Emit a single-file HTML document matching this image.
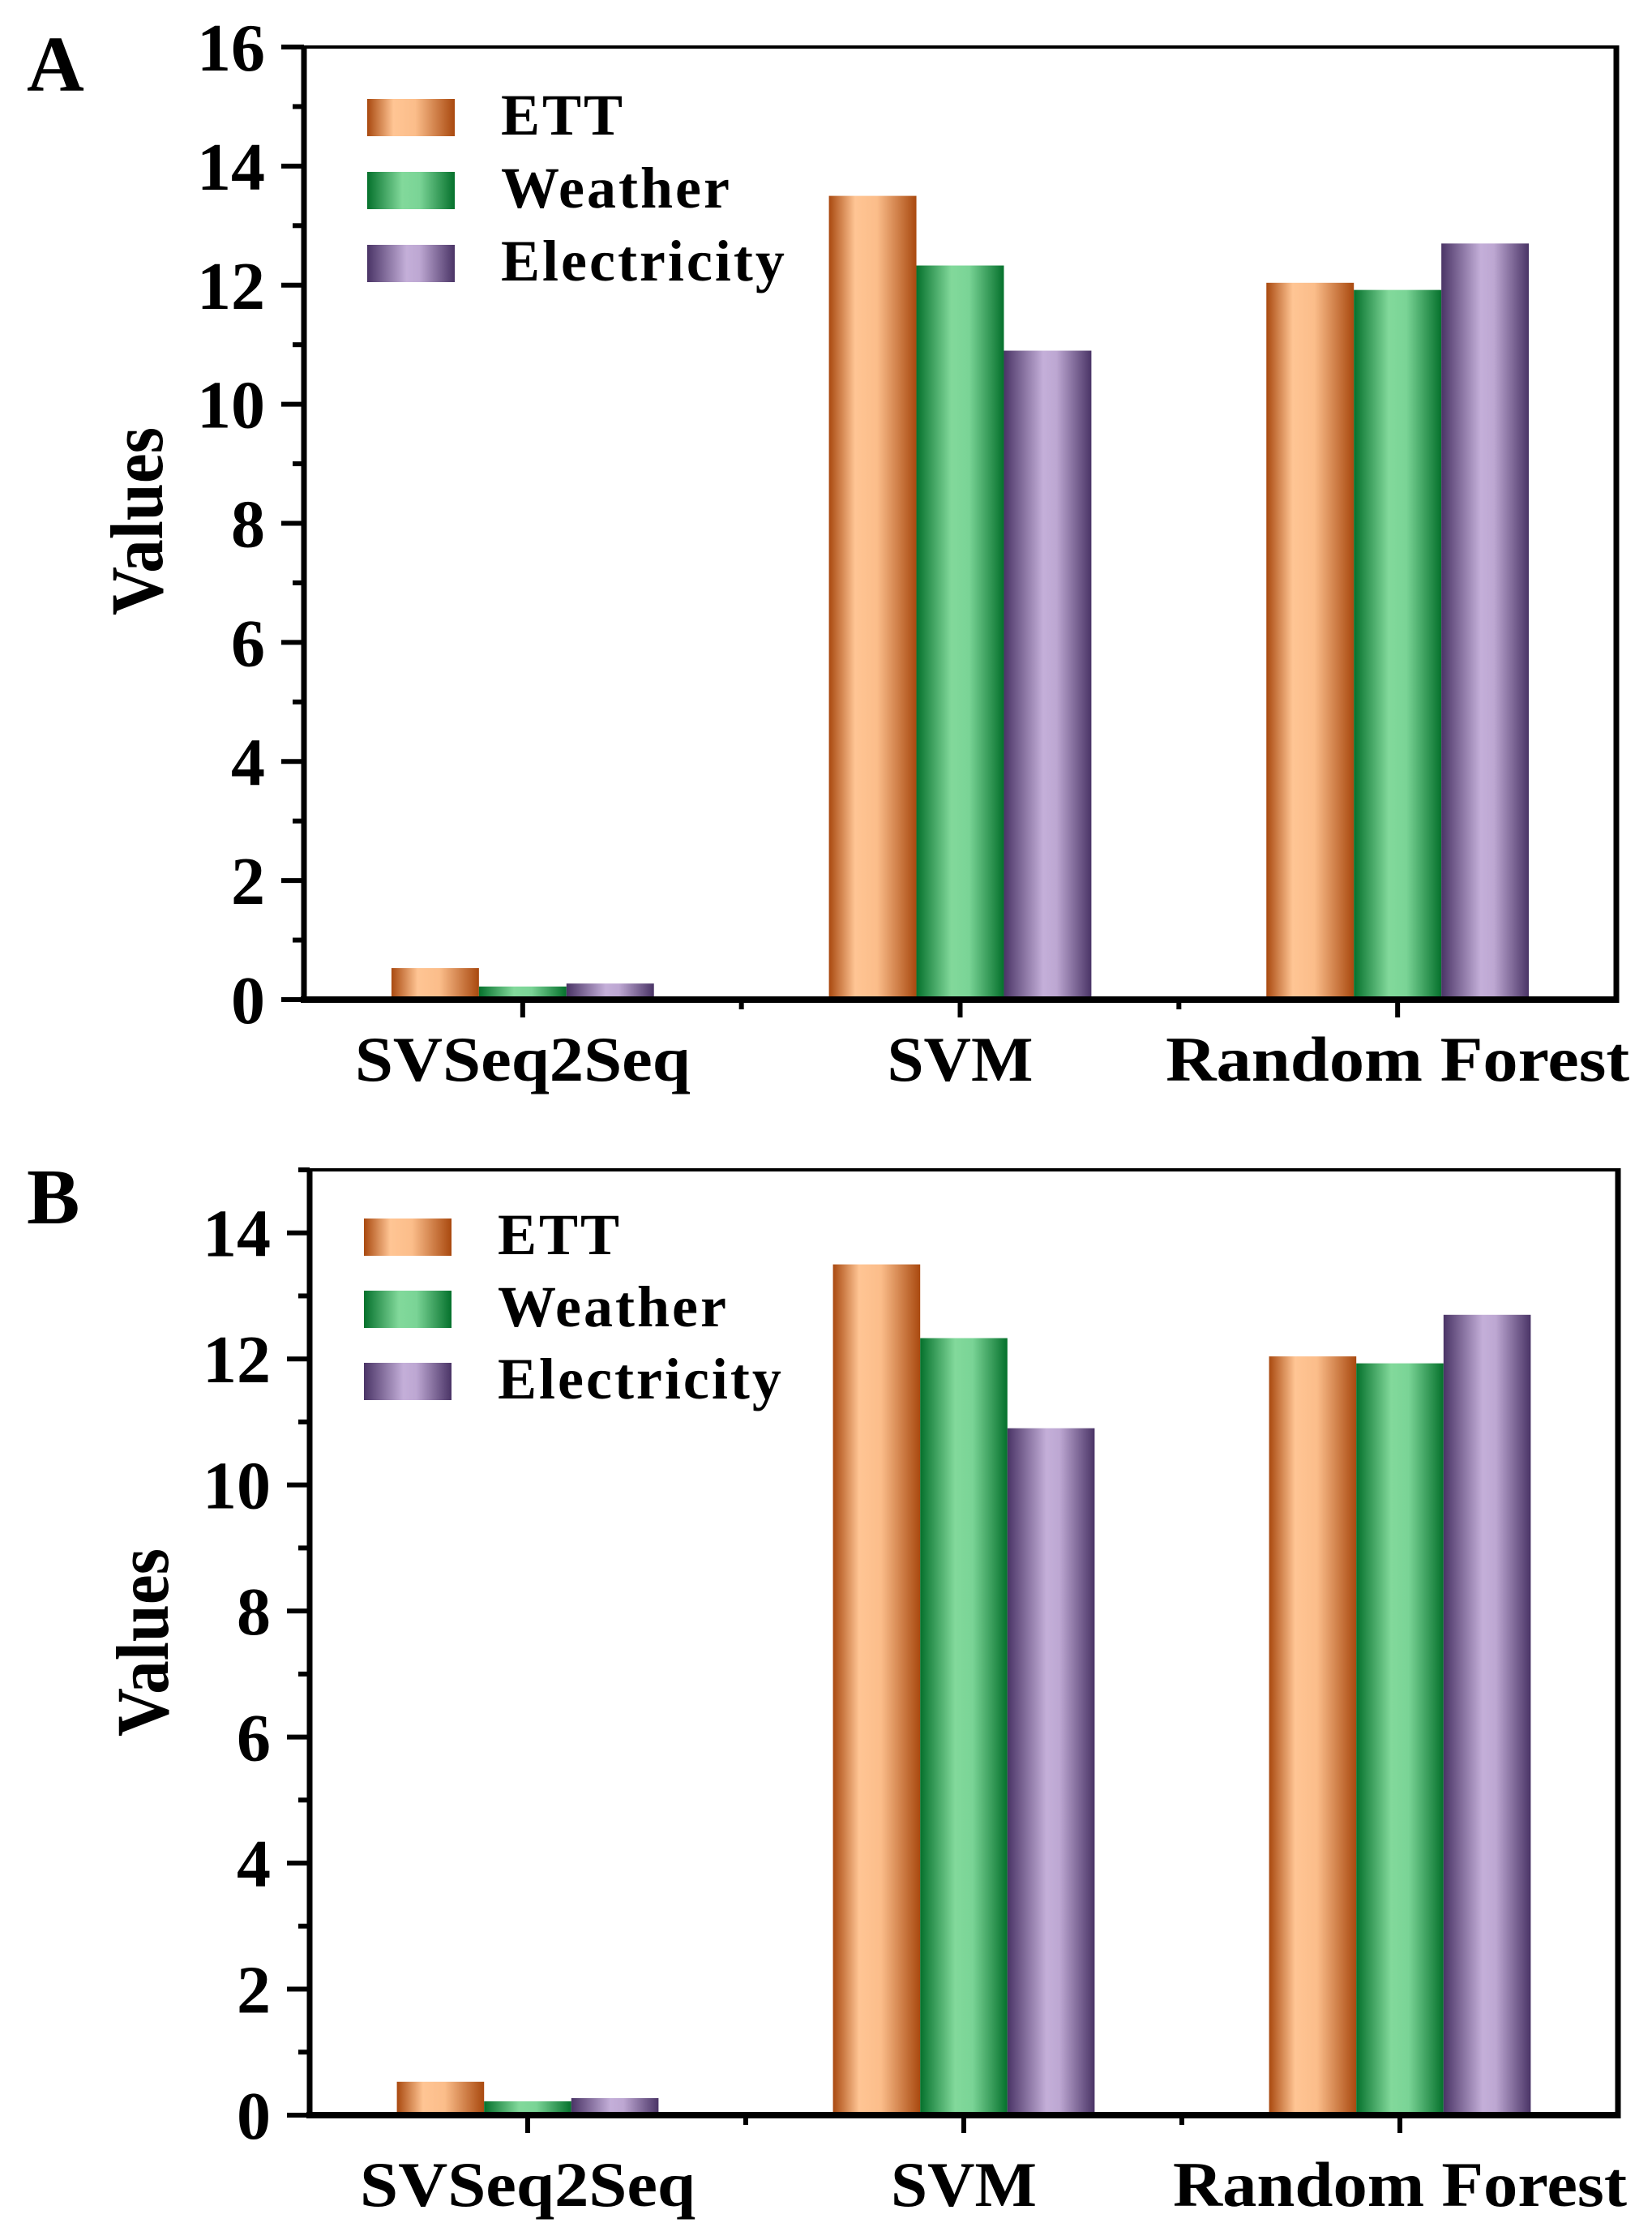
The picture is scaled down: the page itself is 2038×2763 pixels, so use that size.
<!DOCTYPE html>
<html><head><meta charset="utf-8">
<style>
html,body{margin:0;padding:0;background:#fff;}
svg{display:block;font-family:"Liberation Serif",serif;font-weight:bold;}
</style></head>
<body>
<svg id="chart" width="2038" height="2763" viewBox="0 0 2038 2763" xmlns="http://www.w3.org/2000/svg">
<defs>
<linearGradient id="gETT" x1="0" x2="1" y1="0" y2="0">
<stop offset="0" stop-color="#a9490f"/><stop offset="0.3" stop-color="#ffc594"/><stop offset="0.55" stop-color="#fbbd8a"/><stop offset="1" stop-color="#a9490f"/></linearGradient>
<linearGradient id="gW" x1="0" x2="1" y1="0" y2="0">
<stop offset="0" stop-color="#05712c"/><stop offset="0.4" stop-color="#82d99b"/><stop offset="0.6" stop-color="#7ad496"/><stop offset="1" stop-color="#05712c"/></linearGradient>
<linearGradient id="gE" x1="0" x2="1" y1="0" y2="0">
<stop offset="0" stop-color="#4a3466"/><stop offset="0.45" stop-color="#c4afd9"/><stop offset="0.6" stop-color="#bda7d2"/><stop offset="1" stop-color="#4a3466"/></linearGradient>
</defs>
</svg>
<script>
const categories = ["SVSeq2Seq","SVM","Random Forest"];
const seriesNames = ["ETT","Weather","Electricity"];
const ettA = [0.53, 13.5, 12.04];
const weatherA = [0.22, 12.33, 11.92];
const elecA = [0.27, 10.9, 12.7];
const ettB = [0.53, 13.5, 12.04];
const weatherB = [0.22, 12.33, 11.93];
const elecB = [0.27, 10.9, 12.7];
const ticksA = [0,2,4,6,8,10,12,14,16];
const ticksB = [0,2,4,6,8,10,12,14];

const NS = "http://www.w3.org/2000/svg";
const svg = document.getElementById("chart");
const fills = ["url(#gETT)","url(#gW)","url(#gE)"];
function mk(tag, attrs, parent){
  const e = document.createElementNS(NS, tag);
  for (const k in attrs) e.setAttribute(k, attrs[k]);
  (parent||svg).appendChild(e);
  return e;
}

function panel(p){
  const g = mk("g", {});
  
  
  const n = categories.length;
  const step = (p.x1 - p.x0) / n;
  const xc = i => p.x0 + step * (i + 0.5);
  const y = v => p.zero - (p.zero - p.top) * v / p.max;
  const bw = step * 0.2;
  const series = [p.ett, p.weather, p.elec];
  series.forEach((vals, s) => {
    vals.forEach((v, i) => {
      const r = mk("rect", {x: xc(i) + (s - 1.5) * bw, y: y(v), width: bw, height: p.zero - y(v), fill: fills[s]}, g);
      
      
    });
  });
  const fr = mk("g", {stroke: "#000", fill: "none"}, g);
  
  
  mk("line", {x1: p.x0, y1: p.top, x2: p.x1, y2: p.top, "stroke-width": 4}, fr);
  mk("line", {x1: p.x1, y1: p.top - 2, x2: p.x1, y2: p.zero + 4, "stroke-width": 7}, fr);
  mk("line", {x1: p.x0 - 4, y1: p.zero, x2: p.x1 + 3, y2: p.zero, "stroke-width": 8}, fr);
  mk("line", {x1: p.x0, y1: p.top - 2, x2: p.x0, y2: p.zero + 4, "stroke-width": 7}, fr);
  const yAxis = mk("g", {}, g);
  
  
  for (let v = 0; v <= p.max; v++) {
    const major = v % 2 === 0;
    mk("line", {x1: p.x0 - (major ? 28 : 14), y1: y(v), x2: p.x0, y2: y(v), stroke: "#000", "stroke-width": 6}, yAxis);
  }
  p.ticks.forEach(t => {
    const tx = mk("text", {x: p.x0 - 48, y: y(t) + 29, "text-anchor": "end", "font-size": 84, fill: "#000"}, yAxis);
    tx.textContent = t;
    
    
  });
  const xAxis = mk("g", {}, g);
  
  
  for (let i = 0; i < n; i++) {
    mk("line", {x1: xc(i), y1: p.zero, x2: xc(i), y2: p.zero + 22, stroke: "#000", "stroke-width": 6}, xAxis);
    if (i > 0) mk("line", {x1: p.x0 + step * i, y1: p.zero, x2: p.x0 + step * i, y2: p.zero + 12, stroke: "#000", "stroke-width": 6}, xAxis);
    const tx = mk("text", {x: xc(i), y: p.zero + p.labDy, "text-anchor": "middle", "font-size": 78, fill: "#000", textLength: p.labW[i], lengthAdjust: "spacingAndGlyphs"}, xAxis);
    tx.textContent = categories[i];
    
    
  }
  const yt = mk("text", {x: 0, y: 0, transform: `translate(${p.ytX},${p.ytY}) rotate(-90)`, "text-anchor": "middle", "font-size": 92, fill: "#000", textLength: 232, lengthAdjust: "spacingAndGlyphs"}, g);
  yt.textContent = "Values";
  
  
  const pl = mk("text", {x: 33, y: p.letterY, "font-size": 98, fill: "#000"}, g);
  pl.textContent = p.id;
  
  
  const lg = mk("g", {}, g);
  
  
  seriesNames.forEach((nm, s) => {
    const yy = p.legY + s * p.legStep;
    const sw = mk("rect", {x: p.legX, y: yy, width: 108, height: 46, fill: fills[s]}, lg);
    
    
    const tx = mk("text", {x: p.legX + 165, y: yy + 44, "font-size": 72, fill: "#000", "letter-spacing": 3}, lg);
    tx.textContent = nm;
    
    
  });
}

panel({id: "A", x0: 375, x1: 1994, top: 58, zero: 1233, max: 16, ticks: ticksA,
  ett: ettA, weather: weatherA, elec: elecA, labDy: 100, labW: [414, 180, 572],
  ytX: 200, ytY: 643, letterY: 112, legX: 453, legY: 122, legStep: 90});
panel({id: "B", x0: 382, x1: 1996, top: 1443, zero: 2609, max: 15, ticks: ticksB,
  ett: ettB, weather: weatherB, elec: elecB, labDy: 112, labW: [414, 180, 560],
  ytX: 207, ytY: 2026, letterY: 1509, legX: 449, legY: 1503, legStep: 89});
</script>
</body></html>
